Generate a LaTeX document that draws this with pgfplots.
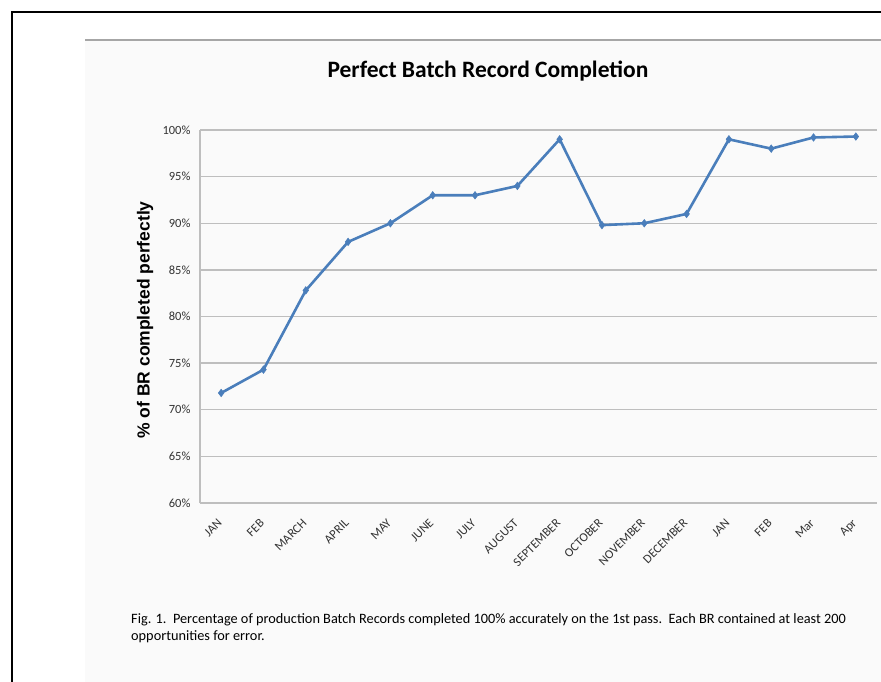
\documentclass[border=0pt]{standalone}
\usepackage{pgfplots}
\pgfplotsset{compat=1.18}
\usepackage{fontspec}
\setmainfont{Carlito}
\newfontfamily\arialfont{Liberation Sans}
\definecolor{exblue}{HTML}{4A7EBB}
\definecolor{gridgray}{RGB}{190,190,190}
\begin{document}
\begin{tikzpicture}
\useasboundingbox (0pt,0pt) rectangle (881pt,-682pt);
\fill[white] (0pt,0pt) rectangle (881pt,-682pt);
\fill[black!2] (85pt,-40pt) rectangle (881pt,-682pt);
% frame
\draw[line width=2.5pt,black] (12pt,-682pt) -- (12pt,-12pt) -- (881pt,-12pt);
\draw[line width=1.5pt,black!35] (85pt,-40pt) -- (881pt,-40pt);
% title
\node[font=\fontsize{23.5}{27}\selectfont\bfseries] at (488pt,-71pt) {Perfect Batch Record Completion};
% y label
\node[rotate=90,font=\arialfont\fontsize{17.5}{20}\selectfont\bfseries] at (145pt,-320pt) {\% of BR completed perfectly};
% caption
\node[anchor=north west,align=left,inner sep=0pt,font=\fontsize{14.3}{17}\selectfont] at (131pt,-613pt)
 {Fig. 1.\ \ Percentage of production Batch Records completed 100\% accurately on the 1st pass.\ \ Each BR contained at least 200\\opportunities for error.};
\begin{axis}[
  at={(200pt,-503pt)}, anchor=south west,
  scale only axis, width=677pt, height=373pt,
  xmin=-0.5, xmax=15.5, ymin=60, ymax=100,
  axis lines=left, axis line style={gridgray, line width=1.2pt, -},
  ytick={60,65,...,100},
  yticklabel={\pgfmathprintnumber{\tick}\%},
  ymajorgrids, grid style={gridgray, line width=1.3pt},
  xtick={0,...,15},
  xticklabels={JAN,FEB,MARCH,APRIL,MAY,JUNE,JULY,AUGUST,SEPTEMBER,OCTOBER,NOVEMBER,DECEMBER,JAN,FEB,Mar,Apr},
  x tick label style={rotate=45, anchor=north east, font=\fontsize{12.5}{13}\selectfont, color=black!80, inner sep=1pt, yshift=-6.6pt, xshift=-12.6pt},
  y tick label style={font=\fontsize{12.5}{14}\selectfont, color=black!80, xshift=-6pt},
  /pgf/number format/assume math mode=true,
  major tick length=0pt,
  clip=false,
]
\addplot[exblue, line width=2.6pt, mark=diamond*, mark size=3.8pt, mark options={fill=exblue, line width=0.5pt}]
 coordinates {(0,71.8) (1,74.3) (2,82.8) (3,88.0) (4,90.0) (5,93.0) (6,93.0) (7,94.0) (8,99.0) (9,89.8) (10,90.0) (11,91.0) (12,99.0) (13,98.0) (14,99.2) (15,99.3)};
\end{axis}
\end{tikzpicture}
\end{document}
